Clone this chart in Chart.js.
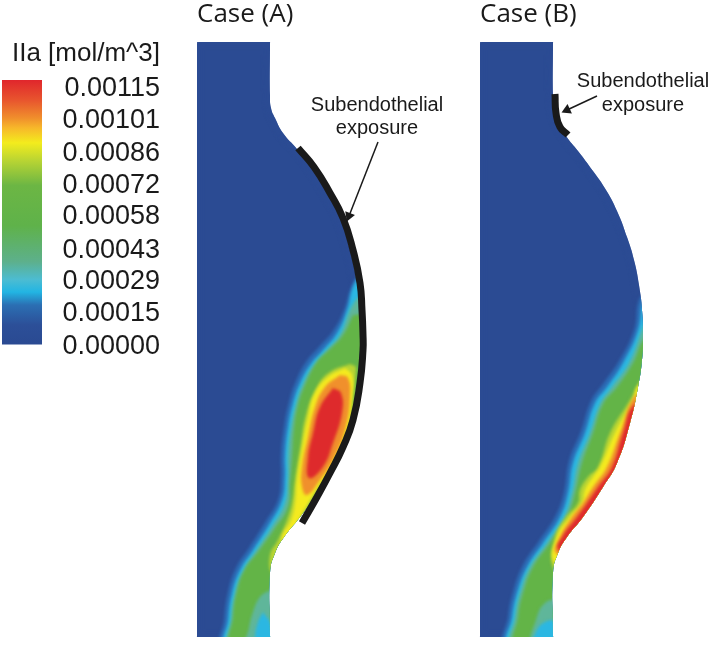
<!DOCTYPE html>
<html>
<head>
<meta charset="utf-8">
<title>IIa concentration</title>
<script src="https://cdn.jsdelivr.net/npm/chart.js@4"></script>
<style>
    html, body { margin: 0; background: #fff; }
    #barra, #grafico { position: absolute; left: 0; top: 0; }
</style>
</head>
<body>
<canvas id="barra" width="160" height="367"></canvas>
<canvas id="grafico" width="709" height="648"></canvas>
<script>
// Colour bar
const barTicks = [0, 0.00015, 0.00029, 0.00043, 0.00058, 0.00072, 0.00086, 0.00101, 0.00115];
const barRange = [0.000013, 0.00119];
const barStops = [0.00119, 0.0011, 0.00102, 0.000976, 0.00091, 0.00083, 0.00072, 0.00054, 0.00038, 0.0003, 0.000245, 0.000187, 0.000098, 0.000013];
const barColors = ['#e0262c', '#e8552e', '#f08f2c', '#f7b82a', '#f3ec1d', '#b8d433', '#6cb644', '#5fb24a', '#5db08c', '#4cbcd2', '#22b5e3', '#2b6fb3', '#2c4f98', '#2a4a92'];

// Vessel walls, each one goes round the whole domain
const wallA = [[197,42],[269,42],[270,42],[270,43],[270,95],[271,108],[275,118],[283,133],[297,149],[311,167],[327,193],[340,218],[350,250],[357,283],[360,310],[361,337],[360,350],[357,383],[350,420],[340,447],[327,473],[314,497],[300,517],[284,537],[275,553],[270,573],[270,636],[270,637],[269,637],[198,637],[197,637],[197,636],[197,43],[197,42]];
const wallB = [[480,42],[552,42],[553,42],[553,43],[553,95],[554,108],[557,120],[566,136],[578,151],[593,171],[606,190],[617,211],[627,237],[634,260],[639,285],[642,310],[643,337],[642,360],[638,387],[630,423],[617,463],[603,487],[583,517],[567,537],[558,553],[553,573],[553,636],[553,637],[552,637],[481,637],[480,637],[480,636],[480,43],[480,42]];

// Contour bands of case (A), outermost first
const a15 = [[362,270],[352,285],[344,310],[333,331],[319,347],[306,362],[296,381],[289,402],[284,427],[281,455],[281,478],[278,500],[266,521],[249,548],[236,568],[228,592],[224,620],[223,645],[375,645],[375,270],[362,270]];
const a29 = [[362,272],[353,287],[347,310],[337,333],[323,350],[310,365],[300,383],[293,403],[288,427],[285,455],[285,477],[282,500],[270,523],[253,550],[240,570],[232,593],[228,620],[227,645],[375,645],[375,272],[362,272]];
const a43 = [[362,295],[356,300],[349,312],[340,335],[326,351],[313,366],[303,384],[296,404],[291,428],[288,456],[288,479],[285,503],[273,525],[256,551],[243,571],[235,593],[231,620],[230,645],[375,645],[375,295],[362,295]];
const a58 = [[353,315],[343,335],[330,349],[317,362],[305,385],[298,405],[294,428],[292,457],[290,483],[288,507],[275,528],[258,552],[245,569],[237,591],[233,617],[233,645],[375,645],[375,315],[353,315]];
const a80 = [[350,364],[330,372],[317,387],[306,415],[301,443],[295,480],[292,503],[287,520],[278,540],[270,555],[272,572],[285,556],[300,528],[315,490],[331,463],[345,433],[351,397],[356,368],[350,364]];
const a90 = [[345,368],[328,377],[315,393],[308,417],[303,443],[297,480],[295,503],[291,520],[282,537],[285,545],[303,512],[317,490],[333,465],[347,433],[353,397],[352,375],[345,368]];
const a100 = [[340,375],[325,387],[315,407],[308,437],[302,467],[302,487],[307,495],[320,480],[333,460],[345,430],[350,397],[348,378],[340,375]];
const a115 = [[333,388],[320,407],[313,433],[308,457],[309,478],[323,467],[333,443],[342,413],[341,393],[333,388]];
const aLow43 = [[270,590],[260,597],[253,612],[249,628],[247,645],[278,645],[278,590],[270,590]];
const aLow29 = [[263,612],[258,622],[255,637],[256,645],[272,645],[271,625],[263,612]];

// Contour bands of case (B), outermost first
const b15 = [[648,290],[639,300],[634,330],[619,361],[603,384],[591,401],[581,431],[569,461],[564,492],[556,515],[539,541],[523,565],[513,592],[508,617],[506,645],[660,645],[660,290],[648,290]];
const b29 = [[648,293],[643,300],[638,330],[623,363],[607,387],[595,403],[585,433],[573,463],[568,493],[560,517],[543,543],[527,567],[517,593],[512,617],[510,645],[660,645],[660,293],[648,293]];
const b43 = [[648,315],[642,330],[629,363],[612,387],[600,404],[590,433],[578,463],[572,493],[564,517],[547,543],[530,567],[520,593],[515,617],[513,645],[660,645],[660,315],[648,315]];
const b58 = [[648,335],[642,342],[633,363],[617,387],[603,404],[593,433],[582,463],[575,493],[567,517],[550,543],[533,567],[523,593],[518,617],[517,645],[660,645],[660,335],[648,335]];
const b80 = [[650,375],[641,380],[630,400],[610,433],[598,467],[588,477],[580,490],[578,503],[566,517],[555,537],[553,568],[570,580],[660,480],[660,375],[650,375]];
const b90 = [[650,385],[639,385],[633,400],[615,433],[600,467],[593,477],[585,490],[582,503],[570,517],[557,537],[554,562],[575,570],[660,470],[660,385],[650,385]];
const b100 = [[650,395],[636,395],[620,433],[607,467],[593,487],[583,503],[572,517],[560,537],[556,553],[580,560],[660,460],[660,395],[650,395]];
const b115 = [[650,405],[634,405],[623,433],[612,467],[598,487],[587,503],[577,517],[562,537],[558,549],[575,560],[660,450],[660,405],[650,405]];
const bLow43 = [[560,598],[545,603],[536,620],[532,645],[562,645],[560,598]];
const bLow29 = [[558,620],[545,622],[536,632],[534,645],[560,645],[558,620]];

// Subendothelial exposure and the arrows pointing to it
const exposureA = [[298,148],[314,167],[330,193],[343,218],[353,250],[360,283],[362,310],[363,335],[363,350],[360,383],[353,420],[343,447],[330,473],[317,497],[302,523]];
const exposureB = [[555,94],[556,113],[560,127],[568,135]];
const arrowA = [[378,142],[349,216]];
const arrowB = [[597,96],[567,110]];

const texts = [
    { text: 'Case (A)', x: 197, y: 22, font: '26px "Open Sans"', align: 'left' },
    { text: 'Case (B)', x: 480, y: 22, font: '26px "Open Sans"', align: 'left' },
    { text: 'IIa [mol/m^3]', x: 160, y: 61, font: '26px "Liberation Sans"', align: 'right' },
    { text: 'Subendothelial', x: 377, y: 111, font: '20px "Liberation Sans"', align: 'center' },
    { text: 'exposure', x: 377, y: 134, font: '20px "Liberation Sans"', align: 'center' },
    { text: 'Subendothelial', x: 643, y: 87, font: '20px "Liberation Sans"', align: 'center' },
    { text: 'exposure', x: 643, y: 111, font: '20px "Liberation Sans"', align: 'center' }
];

const puntos = (lista) => lista.map(p => ({ x: p[0], y: p[1] }));

const banda = (lista, color) => ({
    data: puntos(lista),
    showLine: true,
    fill: 'shape',
    backgroundColor: color,
    borderWidth: 0,
    pointRadius: 0,
    tension: 0.45
});

const pared = (lista) => ({
    data: puntos(lista),
    showLine: true,
    fill: 'shape',
    backgroundColor: '#2b4b93',
    borderColor: '#2b4b93',
    borderWidth: 12,
    pointRadius: 0,
    tension: 0.5
});

const grueso = (lista) => ({
    data: puntos(lista),
    showLine: true,
    fill: false,
    borderColor: '#1a1a1a',
    borderWidth: 7,
    pointRadius: 0,
    tension: 0.5,
    encima: true
});

const flecha = (lista) => ({
    data: puntos(lista),
    showLine: true,
    fill: false,
    borderColor: '#1a1a1a',
    backgroundColor: '#1a1a1a',
    borderWidth: 1.5,
    pointStyle: 'triangle',
    pointRadius: [0, 6],
    pointBorderWidth: 0,
    pointRotation: Math.atan2(lista[1][0] - lista[0][0], lista[0][1] - lista[1][1]) * 180 / Math.PI,
    encima: true
});

const colores = { c15: '#2c6cb6', c29: '#2bb7e2', c43: '#5fb69a', c58: '#63b447', c80: '#b8d433', c90: '#f4ea1f', c100: '#f0902c', c115: '#de2a2c' };

// Painted in this order, the first one stays at the bottom
const capas = [
    pared(wallA), pared(wallB),
    banda(a15, colores.c15), banda(a29, colores.c29), banda(a43, colores.c43), banda(a58, colores.c58),
    banda(aLow43, colores.c43), banda(aLow29, colores.c29),
    banda(a80, colores.c80), banda(a90, colores.c90), banda(a100, colores.c100), banda(a115, colores.c115),
    banda(b15, colores.c15), banda(b29, colores.c29), banda(b43, colores.c43), banda(b58, colores.c58),
    banda(bLow43, colores.c43), banda(bLow29, colores.c29),
    banda(b80, colores.c80), banda(b90, colores.c90), banda(b100, colores.c100), banda(b115, colores.c115),
    grueso(exposureA), grueso(exposureB), flecha(arrowA), flecha(arrowB)
];
capas.forEach((capa, i) => { capa.order = capas.length - i; });

// Blur the bands and keep them inside the vessel walls
let recortado = false;
const recorte = {
    id: 'recorte',
    beforeDatasetsDraw(chart) {
        const ctx = chart.ctx;
        ctx.save();
        ctx.beginPath();
        [0, 1].forEach(i => {
            const linea = chart.getDatasetMeta(i).dataset;
            linea.updateControlPoints(chart.chartArea);
            linea.path(ctx);
        });
        ctx.clip();
        ctx.filter = 'blur(1.5px)';
        recortado = true;
    },
    beforeDatasetDraw(chart, args) {
        if (recortado && chart.data.datasets[args.index].encima) {
            chart.ctx.restore();
            recortado = false;
        }
    },
    afterDraw(chart) {
        const ctx = chart.ctx;
        ctx.save();
        ctx.fillStyle = '#1a1a1a';
        texts.forEach(t => {
            ctx.font = t.font;
            ctx.textAlign = t.align;
            ctx.fillText(t.text, chart.scales.x.getPixelForValue(t.x), chart.scales.y.getPixelForValue(t.y));
        });
        ctx.restore();
    }
};

new Chart(document.getElementById('barra'), {
    type: 'bar',
    data: {
        labels: ['IIa'],
        datasets: [{
            data: [barRange],
            barPercentage: 1,
            categoryPercentage: 1,
            backgroundColor: (c) => {
                const { chart } = c;
                if (!chart.chartArea) return barColors[0];
                const y = chart.scales.y;
                const grad = chart.ctx.createLinearGradient(0, y.getPixelForValue(barStops[0]), 0, y.getPixelForValue(barStops[barStops.length - 1]));
                const total = barStops[0] - barStops[barStops.length - 1];
                barStops.forEach((v, i) => grad.addColorStop((barStops[0] - v) / total, barColors[i]));
                return grad;
            }
        }]
    },
    options: {
        responsive: false,
        animation: false,
        layout: { padding: { left: 2, top: 80, bottom: 20 } },
        plugins: { legend: { display: false }, tooltip: { enabled: false } },
        scales: {
            x: { display: false },
            y: {
                position: 'right',
                min: 0,
                max: barRange[1],
                grid: { display: false, drawTicks: false },
                border: { display: false },
                afterBuildTicks: (scale) => { scale.ticks = barTicks.map(v => ({ value: v })); },
                afterFit: (scale) => { scale.width = 118; scale.paddingTop = 0; scale.paddingBottom = 0; },
                ticks: {
                    autoSkip: false,
                    crossAlign: 'far',
                    padding: 21,
                    color: '#1a1a1a',
                    font: { family: 'Liberation Sans', size: 27 },
                    callback: (v) => v.toFixed(5)
                }
            }
        }
    }
});

new Chart(document.getElementById('grafico'), {
    type: 'scatter',
    data: { datasets: capas },
    options: {
        responsive: false,
        animation: false,
        layout: { padding: 0, autoPadding: false },
        plugins: { legend: { display: false }, tooltip: { enabled: false } },
        scales: {
            x: { display: false, min: 0, max: 709 },
            y: { display: false, min: 0, max: 648, reverse: true }
        }
    },
    plugins: [recorte]
});
</script>
</body>
</html>
